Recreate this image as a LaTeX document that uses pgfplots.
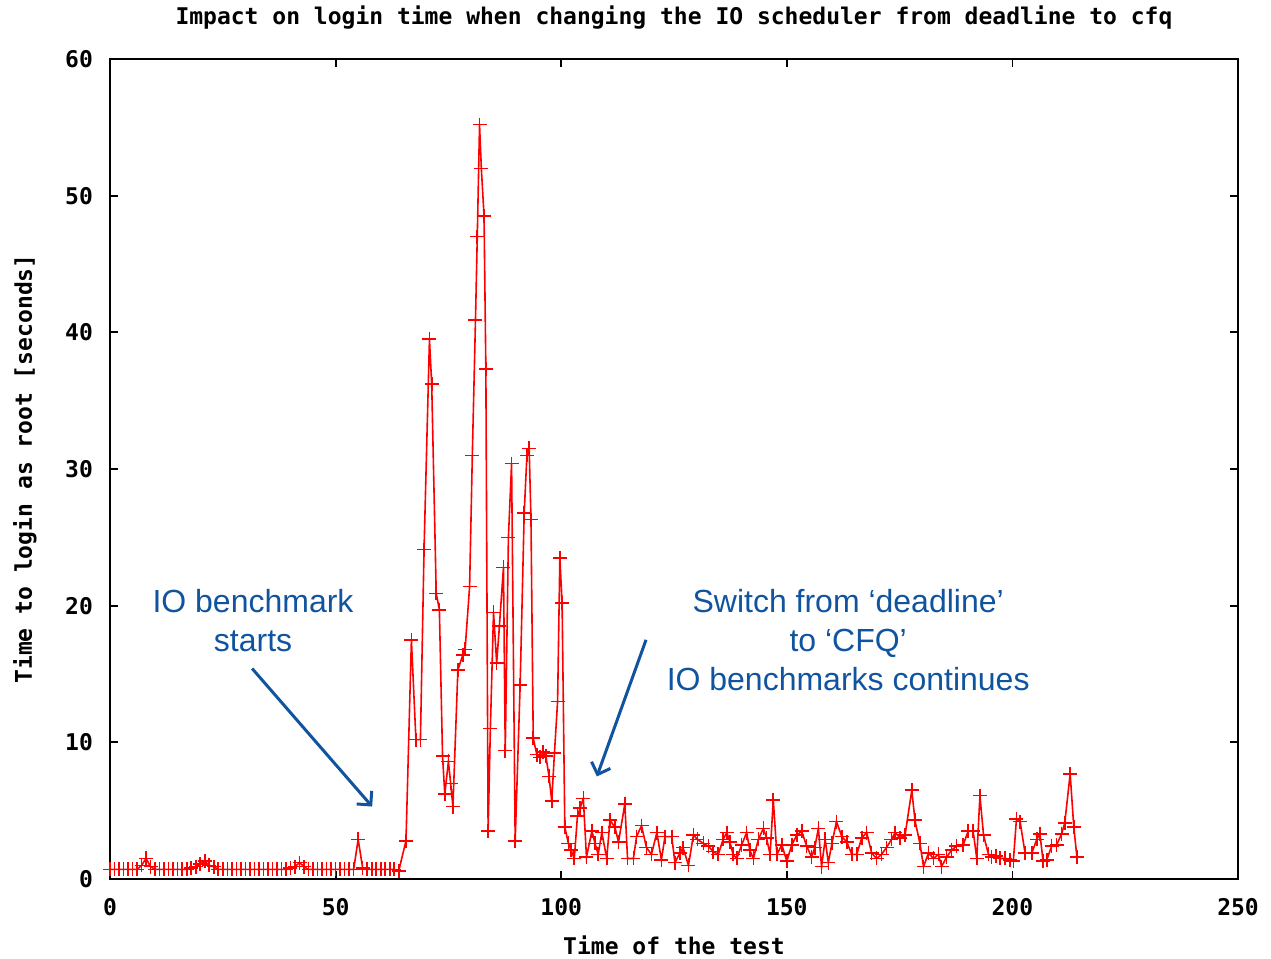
\documentclass[border=0pt]{standalone}
\usepackage{fontspec}
\setmainfont{Liberation Sans}
\setmonofont{DejaVu Sans Mono}
\usepackage{pgfplots}
\pgfplotsset{compat=1.18}
\usetikzlibrary{arrows.meta}
\definecolor{annot}{RGB}{16,84,160}
\newcommand{\gp}{\ttfamily\bfseries\fontsize{11.5}{13}\selectfont}

\begin{document}
\begin{tikzpicture}
\begin{axis}[
    name=ax,
    scale only axis,
    width=564pt, height=410pt,
    xmin=0, xmax=250, ymin=0, ymax=60,
    xtick={0,50,...,250}, ytick={0,10,...,60},
    tick align=inside, major tick length=4pt,
    axis line style={line width=0.9pt},
    every tick/.style={black, line width=0.9pt},
    /pgf/number format/assume math mode=true,
    tick label style={font=\gp},
    xticklabel style={anchor=center, yshift=-14pt},
    yticklabel style={xshift=-5pt},
    xlabel={Time of the test},
    xlabel style={font=\gp, at={(axis description cs:0.5,-0.0805)}, anchor=center},
    ylabel={Time to login as root [seconds]},
    ylabel style={font=\gp, at={(axis description cs:-0.0754,0.5)}, anchor=center},
    clip=false,
]
\addplot[red, line width=0.8pt, mark=+, mark size=3.5pt, mark options={solid, red, line width=0.8pt}] coordinates {
(0,0.7) (1,0.7) (2,0.7) (3,0.7) (4,0.7) (5,0.7) (6,0.7) (7,1.0) (8,1.5) (9,0.9)
(10,0.7) (11,0.7) (12,0.7) (13,0.7) (14,0.7) (15,0.7) (16,0.7) (17,0.7) (18,0.8) (19,0.9)
(20,1.1) (21,1.3) (22,1.0) (23,0.9) (24,0.7) (25,0.7) (26,0.7) (27,0.7) (28,0.7) (29,0.7)
(30,0.7) (31,0.7) (32,0.7) (33,0.7) (34,0.7) (35,0.7) (36,0.7) (37,0.7) (38,0.7) (39,0.7)
(40,0.8) (41,0.9) (42,1.2) (43,0.9) (44,0.7) (45,0.7) (46,0.7) (47,0.7) (48,0.7) (49,0.7)
(50,0.7) (51,0.7) (52,0.7) (53,0.7) (54,0.7) (55,2.9) (56,0.8) (57,0.7) (58,0.7) (59,0.7)
(60,0.7) (61,0.7) (62,0.7) (63,0.7) (64,0.6)
(65.6,2.8) (66.8,17.5) (67.8,10.2) (68.8,10.2) (69.6,24.1) (70.8,39.5) (71.3,36.2)
(72.3,20.9) (73.0,19.7) (73.7,9.0) (74.2,6.2) (75.0,8.6) (75.5,7.0) (76.0,5.3)
(77.1,15.3) (78.2,16.4) (78.7,16.8) (79.7,21.4) (80.3,31.0) (81.0,40.9) (81.4,47.0)
(81.9,55.2) (82.3,52.0) (82.9,48.5) (83.3,37.3) (83.8,3.5) (84.3,11.0) (85.0,19.5)
(85.7,15.8) (86.3,18.5) (87.2,22.8) (87.6,9.4) (88.3,25.0) (89.0,30.4) (89.8,2.8)
(90.9,14.2) (91.8,26.8) (92.4,31.0) (92.9,31.5) (93.3,26.3) (93.8,10.3) (94.6,9.1)
(95.3,8.9) (96.0,9.3) (96.6,9.0) (97.3,7.5) (97.9,5.7) (98.5,9.2) (99.2,13.0)
(99.7,23.5) (100.2,20.2) (100.8,3.8) (101.6,2.6) (102.2,2.1) (102.9,1.5) (103.6,4.6)
(104.2,5.2) (104.9,5.9) (105.6,1.6) (106.8,3.5) (107.5,2.6) (108.2,1.8) (109.0,3.4)
(110.1,1.5) (110.8,4.3) (111.9,3.8) (112.7,2.7) (114.1,5.5) (114.7,1.5) (116.0,1.5)
(116.7,3.1) (117.8,3.9) (118.9,2.3) (120.0,1.8) (121.2,3.4) (122.2,1.4) (123.0,3.1)
(124.5,3.1) (125.2,1.2) (126.3,1.9) (127.0,2.3) (128.2,1.0) (129.3,3.2) (130.2,2.9)
(131.5,2.6) (132.6,2.4) (133.7,2.0) (134.8,1.8) (135.9,2.9) (136.7,3.4) (137.4,2.7)
(138.1,1.8) (138.9,1.5) (140.0,2.5) (141.1,3.4) (141.8,2.1) (142.6,1.5) (143.7,2.9)
(144.8,3.7) (145.5,3.0) (146.3,1.8) (147.0,5.8) (147.8,1.8) (148.9,2.5) (150.0,1.3)
(151.1,2.5) (152.2,3.2) (153.3,3.5) (154.4,2.4) (155.5,1.6) (156.2,2.3) (157.0,3.7)
(157.7,0.9) (158.5,2.9) (159.2,1.2) (160.0,2.6) (161.0,4.2) (162.2,3.1) (163.3,2.7)
(164.4,1.8) (165.5,1.8) (166.6,3.0) (167.7,3.4) (168.8,1.9) (169.9,1.5) (171.0,1.8)
(172.1,2.3) (173.2,2.9) (174.0,3.4) (175.1,3.0) (176.2,3.2) (177.7,6.5) (178.4,4.3)
(179.5,2.6) (180.3,0.9) (181.4,1.9) (182.5,1.5) (183.6,1.8) (184.3,0.9) (185.4,1.6)
(186.5,2.1) (187.6,2.4) (189.1,2.5) (190.2,3.5) (191.3,3.5) (192.1,1.5) (192.8,6.1)
(193.6,3.2) (194.7,1.8) (195.4,1.6) (196.3,1.7) (197.2,1.5) (198.4,1.5) (199.5,1.4)
(200.2,1.3) (200.9,4.4) (201.7,4.2) (202.8,1.9) (204.3,1.9) (205.4,2.9) (206.1,3.3)
(206.8,1.3) (207.6,1.4) (208.7,2.4) (209.8,2.5) (210.9,3.3) (211.6,4.1) (212.8,7.7)
(213.6,3.8) (214.3,1.6)
};
\node[annot, font={\fontsize{16}{19.5}\selectfont}, align=center] at (axis cs:31.7,18.9) {IO benchmark\\starts};
\draw[annot, line width=1.5pt, -{Straight Barb[length=5pt,width=10pt]}] (axis cs:31.5,15.4) -- (axis cs:58.1,5.3);
\node[annot, font={\fontsize{16}{19.5}\selectfont}, align=center] at (axis cs:163.6,17.5) {Switch from ‘deadline’\\to ‘CFQ’\\IO benchmarks continues};
\draw[annot, line width=1.5pt, -{Straight Barb[length=5pt,width=10pt]}] (axis cs:118.8,17.5) -- (axis cs:107.9,7.5);
\end{axis}
\node[font=\gp, anchor=center] at ([yshift=20.5pt]ax.north) {Impact on login time when changing the IO scheduler from deadline to cfq};
\pgfresetboundingbox
\path ([shift={(-55pt,-40pt)}]ax.south west) rectangle ([shift={(16.5pt,29.5pt)}]ax.north east);
\end{tikzpicture}
\end{document}
